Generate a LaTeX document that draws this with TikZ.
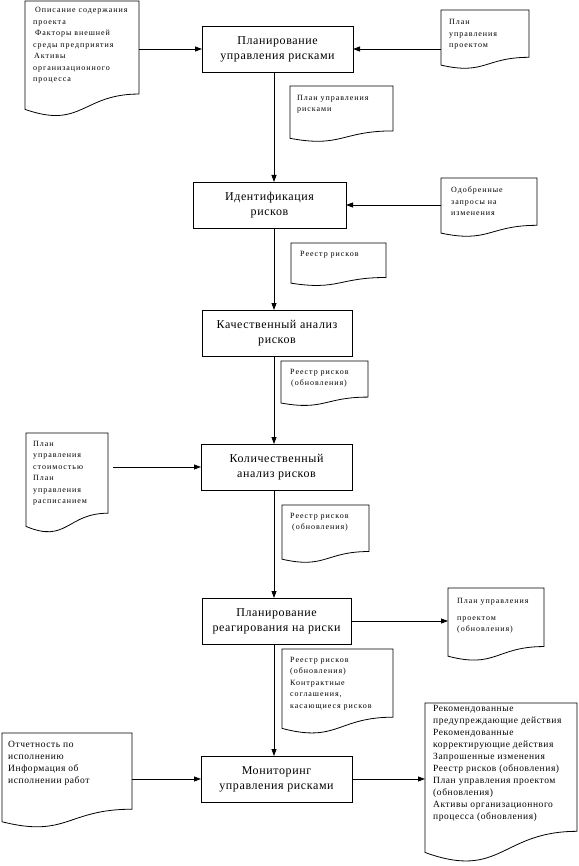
\documentclass[tikz,border=0pt]{standalone}
\usepackage{fontspec}
\setmainfont{Liberation Serif}
\newfontfamily\docfont[LetterSpace=12]{Liberation Serif}
\newfontfamily\bigdocfont[LetterSpace=6]{Liberation Serif}
\newfontfamily\procfont[LetterSpace=5]{Liberation Serif}
\usetikzlibrary{arrows.meta,calc}
\tikzset{
  proc/.style={draw, line width=0.8pt, rectangle, inner sep=0pt, outer sep=0pt,
    anchor=north west, align=center, font=\procfont\fontsize{12}{15}\selectfont},
  docframe/.style={rectangle, inner sep=0pt, outer sep=0pt, anchor=north west},
  doctext/.style={inner sep=0pt, anchor=north west, align=left,
    font=\docfont\fontsize{8}{11.5}\selectfont},
  bigdoctext/.style={inner sep=0pt, anchor=north west, align=left,
    font=\bigdocfont\fontsize{9.5}{12}\selectfont},
  docline/.style={line width=0.8pt},
  arr/.style={line width=0.8pt, -{Triangle[length=7pt,width=5pt]}},
}
\newcommand\drawdoc[1]{\draw[docline] (#1.north west) -- (#1.north east)
  -- ($(#1.north east)!0.802!(#1.south east)$)
  .. controls ($(#1.north)!0.802!(#1.south)$) and ($(#1.north)!1.1075!(#1.south)$)
  .. ($(#1.north west)!0.934!(#1.south west)$) -- cycle;}
\begin{document}
\begin{tikzpicture}[x=1pt,y=-1pt]
\useasboundingbox (0,0) rectangle (578,866);
\coordinate (col) at (274,0);
% process boxes
\node[proc, minimum width=151pt, minimum height=46pt] (b1) at (202,26) {Планирование\\управления рисками};
\node[proc, minimum width=153pt, minimum height=46pt] (b2) at (193,182) {Идентификация\\рисков};
\node[proc, minimum width=150pt, minimum height=46pt] (b3) at (202,310) {Качественный анализ\\рисков};
\node[proc, minimum width=151pt, minimum height=46pt] (b4) at (201,444) {Количественный\\анализ рисков};
\node[proc, minimum width=149pt, minimum height=46pt] (b5) at (202,598) {Планирование\\реагирования на риски};
\node[proc, minimum width=151pt, minimum height=46pt] (b6) at (201,756) {Мониторинг\\управления рисками};
% documents
\node[docframe, minimum width=114pt, minimum height=116pt] (d1) at (25,1) {};
\drawdoc{d1}
\node[doctext] (d1t) at (33,7.5) {\hspace*{2pt}Описание содержания\\проекта\\\hspace*{2pt}Факторы внешней\\среды предприятия\\\hspace*{1pt}Активы\\организационного\\процесса};
\node[docframe, minimum width=88pt, minimum height=59pt] (d2) at (441,10) {};
\drawdoc{d2}
\node[doctext] (d2t) at (449,19.5) {План\\управления\\проектом};
\node[docframe, minimum width=103pt, minimum height=56pt] (d3) at (290,86) {};
\drawdoc{d3}
\node[doctext] (d3t) at (297,95) {План управления\\рисками};
\node[docframe, minimum width=96pt, minimum height=59pt] (d4) at (441,178) {};
\drawdoc{d4}
\node[doctext] (d4t) at (451,187) {Одобренные\\запросы на\\изменения};
\node[docframe, minimum width=95pt, minimum height=43pt] (d5) at (291,243) {};
\drawdoc{d5}
\node[doctext] (d5t) at (300,251.5) {Реестр рисков};
\node[docframe, minimum width=87pt, minimum height=45pt] (d6) at (281,361) {};
\drawdoc{d6}
\node[doctext] (d6t) at (290,369) {Реестр рисков\\\hspace*{1pt}(обновления)};
\node[docframe, minimum width=82pt, minimum height=100pt] (d7) at (26,433) {};
\drawdoc{d7}
\node[doctext] (d7t) at (33,441) {План\\управления\\стоимостью\\План\\управления\\расписанием};
\node[docframe, minimum width=87pt, minimum height=58pt] (d8) at (282,505) {};
\drawdoc{d8}
\node[doctext] (d8t) at (290,513) {Реестр рисков\\\hspace*{2pt}(обновления)};
\node[docframe, minimum width=96pt, minimum height=73pt] (d9) at (448,588) {};
\drawdoc{d9}
\node[doctext] (d9t) at (457,598.5) {План управления\\[5pt]проектом\\(обновления)};
\node[docframe, minimum width=111pt, minimum height=85pt] (d10) at (282,649) {};
\drawdoc{d10}
\node[doctext] (d10t) at (290,657) {Реестр рисков\\(обновления)\\Контрактные\\соглашения,\\касающиеся рисков};
\node[docframe, minimum width=130pt, minimum height=95pt] (d11) at (2,733) {};
\drawdoc{d11}
\node[bigdoctext] (d11t) at (8,741) {Отчетность по\\исполнению\\Информация об\\исполнении работ};
\node[docframe, minimum width=152pt, minimum height=160pt] (d12) at (425,703) {};
\drawdoc{d12}
\node[bigdoctext] (d12t) at (433,705.5) {Рекомендованные\\предупреждающие действия\\Рекомендованные\\корректирующие действия\\Запрошенные изменения\\Реестр рисков (обновления)\\План управления проектом\\(обновления)\\Активы организационного\\процесса (обновления)};
% connectors
\draw[arr] (b1.west -| d1.east) -- (b1.west);
\draw[arr] (b1.east -| d2.west) -- (b1.east);
\draw[arr] (b1.south -| col) -- (b2.north -| col);
\draw[arr] (b2.east -| d4.west) -- (b2.east);
\draw[arr] (b2.south -| col) -- (b3.north -| col);
\draw[arr] (b3.south -| col) -- (b4.north -| col);
\draw[arr] ($(b4.west -| d7.east)+(5,0)$) -- (b4.west);
\draw[arr] (b4.south -| col) -- (b5.north -| col);
\draw[arr] (b5.east) -- (b5.east -| d9.west);
\draw[arr] (b5.south -| col) -- (b6.north -| col);
\draw[arr] (b6.west -| d11.east) -- (b6.west);
\draw[arr] (b6.east) -- (b6.east -| d12.west);
\end{tikzpicture}
\end{document}
